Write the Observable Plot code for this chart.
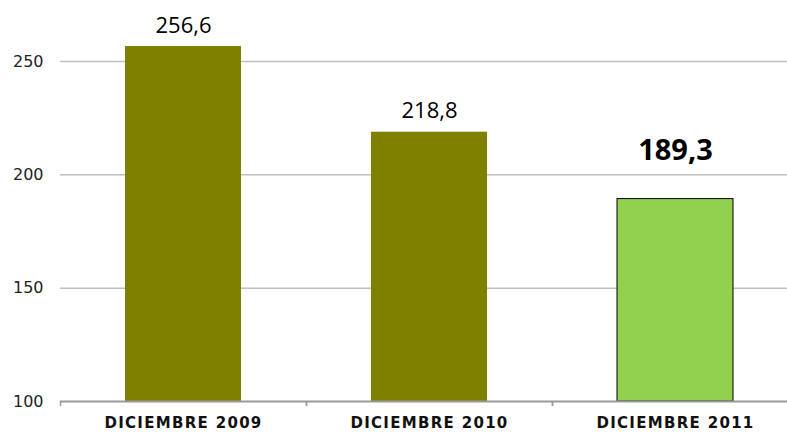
<!DOCTYPE html>
<html><head><meta charset="utf-8">
<script src="https://cdn.jsdelivr.net/npm/d3@7"></script>
<script src="https://cdn.jsdelivr.net/npm/@observablehq/plot@0.6"></script>
<style>body{margin:0;background:#fff}</style>
</head><body><div id="chart"></div>
<script>
const categories = ["DICIEMBRE 2009", "DICIEMBRE 2010", "DICIEMBRE 2011"];
const values = [256.6, 218.8, 189.3];
const barColors = ["#808000", "#808000", "#92D050"];
const yTicks = [100, 150, 200, 250];

const data = categories.map((c, i) => ({cat: c, value: values[i], color: barColors[i], last: i === categories.length - 1}));
const fmt = v => v.toFixed(1).replace(".", ",");

const chart = Plot.plot({
  width: 787,
  height: 432,
  marginTop: 0, marginBottom: 31, marginLeft: 60, marginRight: 0,
  x: {domain: categories, range: [60, 798], paddingInner: 0.53, paddingOuter: 0.265, axis: null},
  y: {domain: [100, 250], range: [401, 61], axis: null},
  style: {fontFamily: "DejaVu Sans", background: "#fff"},
  marks: [
    Plot.ruleY(yTicks.filter(t => t > 100), {stroke: "#bfbfbf", strokeWidth: 1.5}),
    Plot.barY(data, {x: "cat", y1: 100, y2: "value", fill: "color", stroke: d => d.last ? "#000" : "none", strokeWidth: 1}),
    Plot.ruleY([100], {stroke: "#999", strokeWidth: 2}),
    Plot.ruleX(categories, {x: d => d, dx: -123, y1: 100, y2: 97.8, stroke: "#999", strokeWidth: 1.5}),
    Plot.ruleX(categories.slice(0, 2), {x: d => d, dx: 123, y1: 100, y2: 97.8, stroke: "#999", strokeWidth: 1.5}),
    Plot.text(yTicks, {y: d => d, frameAnchor: "left", dx: -17, textAnchor: "end", text: d => String(d), fontSize: 16, fill: "#222"}),
    Plot.text(data, {x: "cat", y: 100, text: "cat", dy: 22, fontSize: 15, fontWeight: "bold", fill: "#111"}),
    Plot.text(data.filter(d => !d.last), {x: "cat", y: "value", text: d => fmt(d.value), dy: -21, fontSize: 22, fontFamily: "Open Sans", fill: "#000"}),
    Plot.text(data.filter(d => d.last), {x: "cat", y: "value", text: d => fmt(d.value), dy: -48, fontSize: 29, fontWeight: "bold", fontFamily: "Open Sans", fill: "#000"})
  ]
});
d3.select(chart).selectAll("text").filter(function() { return categories.includes(this.textContent); }).style("letter-spacing", "1.3px");
document.getElementById("chart").appendChild(chart);
</script>
</body></html>
